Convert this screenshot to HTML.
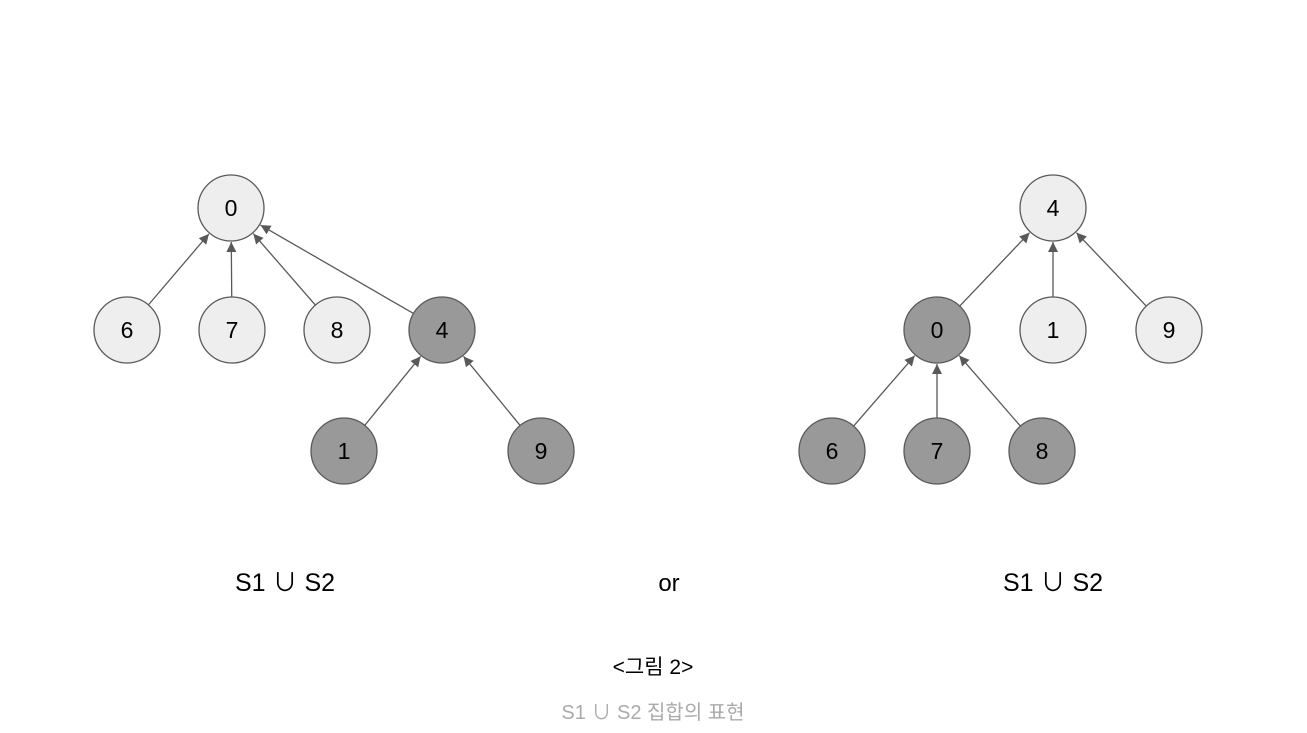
<!DOCTYPE html>
<html><head><meta charset="utf-8"><style>
body{margin:0;background:#fff;width:1307px;height:733px;overflow:hidden}
svg{display:block}
text{font-family:"Liberation Sans","Noto Sans CJK KR",sans-serif}
</style></head><body>
<svg id="g" width="1307" height="733">
<defs><marker id="ah" viewBox="0 0 10 10" refX="10" refY="5" markerWidth="10" markerHeight="10" markerUnits="userSpaceOnUse" orient="auto"><path d="M0,0L10,5L0,10z" fill="#595959"/></marker></defs>
<text x="285" y="591" font-size="25" text-anchor="middle">S1 ∪ S2</text>
<text x="669" y="591" font-size="24" text-anchor="middle">or</text>
<text x="1053" y="591" font-size="25" text-anchor="middle">S1 ∪ S2</text>
<text x="653" y="674" font-size="21" text-anchor="middle">&lt;그림 2&gt;</text>
<text x="653" y="719" font-size="20" fill="#aaa" text-anchor="middle">S1 ∪ S2 집합의 표현</text>
</svg>
<script>
const nodeLabels=["0","6","7","8","4","1","9","4","0","1","9","6","7","8"];
const nodeX=[231,127,232,337,442,344,541,1053,937,1053,1169,832,937,1042];
const nodeY=[208,330,330,330,330,451,451,208,330,330,330,451,451,451];
const nodeDark=[0,0,0,0,1,1,1,0,1,0,0,1,1,1];
const edgeFrom=[1,2,3,4,5,6,8,9,10,11,12,13];
const edgeTo=[0,0,0,0,4,4,7,7,7,8,8,8];
const svg=document.getElementById('g');const NS='http://www.w3.org/2000/svg';const R=33;
for(let i=0;i<edgeFrom.length;i++){
 const a=edgeFrom[i],b=edgeTo[i];
 const dx=nodeX[b]-nodeX[a],dy=nodeY[b]-nodeY[a],d=Math.hypot(dx,dy);
 const l=document.createElementNS(NS,'line');
 l.setAttribute('x1',nodeX[a]+dx/d*R);l.setAttribute('y1',nodeY[a]+dy/d*R);
 l.setAttribute('x2',nodeX[b]-dx/d*(R+1));l.setAttribute('y2',nodeY[b]-dy/d*(R+1));
 l.setAttribute('stroke','#595959');l.setAttribute('stroke-width','1.3');l.setAttribute('marker-end','url(#ah)');
 
 
 svg.appendChild(l);
}
for(let i=0;i<nodeLabels.length;i++){
 const c=document.createElementNS(NS,'circle');
 c.setAttribute('cx',nodeX[i]);c.setAttribute('cy',nodeY[i]);c.setAttribute('r',R);
 c.setAttribute('fill',nodeDark[i]?'#999999':'#eeeeee');c.setAttribute('stroke','#595959');c.setAttribute('stroke-width','1.3');
 
 
 svg.appendChild(c);
 const t=document.createElementNS(NS,'text');
 t.setAttribute('x',nodeX[i]);t.setAttribute('y',nodeY[i]+8);t.setAttribute('font-size','23');t.setAttribute('text-anchor','middle');
 t.textContent=nodeLabels[i];
 
 
 svg.appendChild(t);
}
</script>
</body></html>
